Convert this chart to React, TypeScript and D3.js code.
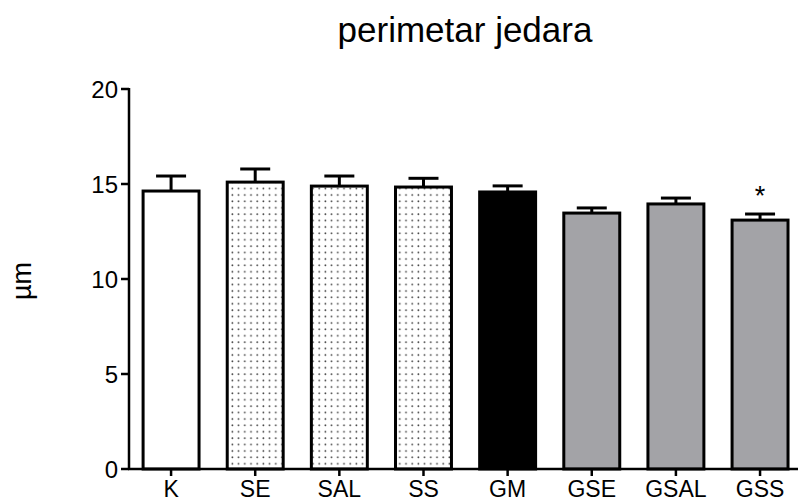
import React from "react";
import * as d3 from "d3";

const categories = ["K", "SE", "SAL", "SS", "GM", "GSE", "GSAL", "GSS"];
const means = [14.63, 15.1, 14.89, 14.84, 14.58, 13.47, 13.95, 13.1];
const errors = [0.79, 0.69, 0.53, 0.46, 0.32, 0.27, 0.31, 0.32];
const fills = ["white", "dots", "dots", "dots", "black", "gray", "gray", "gray"];
const yTicks = [0, 5, 10, 15, 20];
const starred = ["GSS"];

const W = 798;
const H = 503;
const FONT = "'Liberation Sans', Arial, sans-serif";

export default function App() {
  const x0 = 129;
  const y = d3.scaleLinear().domain([0, 20]).range([469, 89]);
  const x = d3
    .scaleBand<string>()
    .domain(categories)
    .range([x0, x0 + 8 * 84.14])
    .paddingInner(0.335)
    .paddingOuter(0.1675);
  const bw = x.bandwidth();
  const capW = 30;

  const fillFor = (f: string) =>
    f === "white" ? "#ffffff" : f === "black" ? "#000000" : f === "gray" ? "#a3a3a7" : "url(#dots)";

  return (
    <svg
      width={W}
      height={H}
      style={{ position: "absolute", left: 0, top: 0, background: "#fff" }}
      fontFamily={FONT}
    >
      <defs>
        <pattern id="dots" patternUnits="userSpaceOnUse" width={6.2} height={6.4}>
          <rect width={6.2} height={6.4} fill="#fff" />
          <circle cx={3} cy={3} r={0.9} fill="#444" />
        </pattern>
      </defs>
      <rect width={W} height={H} fill="#fff" />
      <text x={465} y={42} fontSize={35} textAnchor="middle" fill="#000">
        perimetar jedara
      </text>
      <text
        transform={`translate(31,281) rotate(-90)`}
        fontSize={27}
        textAnchor="middle"
        fill="#000"
      >
        µm
      </text>

      {categories.map((c, i) => {
        const left = x(c)!;
        const cx = left + bw / 2;
        const top = y(means[i]);
        const et = y(means[i] + errors[i]);
        return (
          <g key={c}>
            <line x1={cx} x2={cx} y1={top} y2={et} stroke="#000" strokeWidth={3} />
            <line x1={cx - capW / 2} x2={cx + capW / 2} y1={et} y2={et} stroke="#000" strokeWidth={3} />
            <rect
              x={left}
              y={top}
              width={bw}
              height={y(0) - top}
              fill={fillFor(fills[i])}
              stroke="#000"
              strokeWidth={3}
            />
            {starred.includes(c) && (
              <text x={cx} y={et - 9} fontSize={27} textAnchor="middle" fill="#000">
                *
              </text>
            )}
          </g>
        );
      })}

      {/* y axis */}
      <line x1={x0} x2={x0} y1={y(20) - 1} y2={y(0) + 1} stroke="#000" strokeWidth={2.5} />
      {yTicks.map((t) => (
        <g key={t}>
          <line x1={x0 - 8} x2={x0} y1={y(t)} y2={y(t)} stroke="#000" strokeWidth={2.5} />
          <text x={x0 - 11} y={y(t)} dy="0.36em" fontSize={24} textAnchor="end" fill="#000">
            {t}
          </text>
        </g>
      ))}

      {/* x axis */}
      <line x1={x0 - 1} x2={W} y1={y(0)} y2={y(0)} stroke="#000" strokeWidth={2.5} />
      {categories.map((c) => {
        const cx = x(c)! + bw / 2;
        return (
          <g key={"t" + c}>
            <line x1={cx} x2={cx} y1={y(0)} y2={y(0) + 7} stroke="#000" strokeWidth={2.5} />
            <text x={cx} y={497} fontSize={23} textAnchor="middle" fill="#000">
              {c}
            </text>
          </g>
        );
      })}
    </svg>
  );
}
